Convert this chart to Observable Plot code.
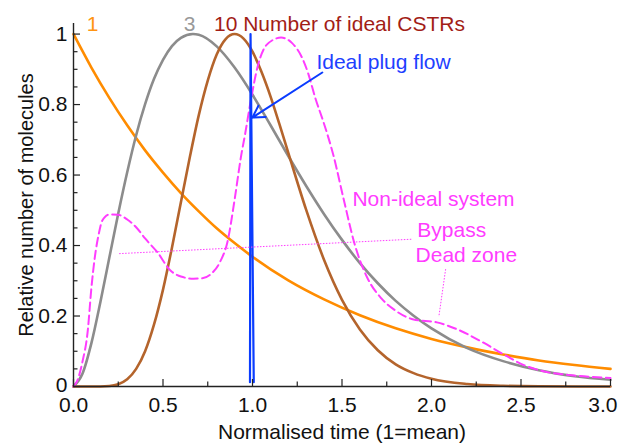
<!DOCTYPE html>
<html><head><meta charset="utf-8">
<script src="https://cdn.jsdelivr.net/npm/d3@7"></script>
<script src="https://cdn.jsdelivr.net/npm/@observablehq/plot@0.6"></script>
<style>body{margin:0;background:#fff}</style>
</head><body><div id="chart"></div>
<script>
// 1 ideal CSTR
const tOne = [0,0.1,0.2,0.3,0.4,0.5,0.6,0.7,0.8,0.9,1.0,1.2,1.4,1.6,1.8,2.0,2.2,2.4,2.6,2.8,3.0];
const oneCSTR = [1,0.905,0.819,0.741,0.670,0.607,0.549,0.497,0.449,0.407,0.368,0.301,0.247,0.202,0.165,0.135,0.111,0.091,0.074,0.061,0.050];
// 3 ideal CSTRs
const tThree = [0,0.05,0.1,0.15,0.2,0.25,0.3,0.35,0.4,0.45,0.5,0.55,0.6,0.667,0.7,0.8,0.9,1.0,1.1,1.2,1.3,1.4,1.5,1.6,1.7,1.8,1.9,2.0,2.2,2.4,2.6,2.8,3.0];
const threeCSTR = [0,0.036,0.123,0.239,0.365,0.491,0.608,0.713,0.801,0.873,0.927,0.966,0.989,1.0,0.998,0.965,0.905,0.828,0.742,0.654,0.569,0.489,0.416,0.350,0.293,0.243,0.201,0.165,0.109,0.072,0.046,0.029,0.019];
// 10 ideal CSTRs
const tTen = [0,0.1,0.2,0.25,0.3,0.35,0.4,0.45,0.5,0.55,0.6,0.65,0.7,0.75,0.8,0.85,0.9,0.95,1.0,1.05,1.1,1.15,1.2,1.3,1.4,1.5,1.6,1.7,1.8,1.9,2.0,2.2,2.4,2.6,3.0];
const tenCSTR = [0,0,0.0015,0.0065,0.0205,0.050,0.100,0.176,0.275,0.394,0.523,0.651,0.770,0.868,0.942,0.986,1.0,0.987,0.950,0.893,0.824,0.745,0.663,0.501,0.359,0.246,0.162,0.103,0.063,0.038,0.022,0.007,0.002,0.0006,0];
// ideal plug flow
const tPlug = [0.986,0.989,1.007];
const plugFlow = [0.012,1.0,0.012];
// non-ideal system
const tNonIdeal = [0,0.02,0.05,0.08,0.1,0.12,0.14,0.16,0.2,0.25,0.3,0.35,0.4,0.47,0.54,0.6,0.67,0.72,0.77,0.82,0.86,0.9,0.935,0.96,0.99,1.03,1.08,1.16,1.22,1.27,1.31,1.35,1.4,1.45,1.51,1.57,1.64,1.72,1.8,1.9,2.03,2.14,2.27,2.4,2.52,2.61,2.8,3.0];
const nonIdeal = [0,0.015,0.07,0.16,0.28,0.37,0.43,0.47,0.488,0.487,0.474,0.452,0.42,0.38,0.33,0.312,0.306,0.307,0.32,0.355,0.41,0.53,0.65,0.72,0.81,0.91,0.97,0.99,0.975,0.94,0.89,0.82,0.745,0.66,0.53,0.405,0.31,0.25,0.215,0.19,0.182,0.163,0.13,0.092,0.06,0.045,0.031,0.024];
// axes
const xMajorTicks = [0,0.5,1.0,1.5,2.0,2.5,3.0];
const xTickLabels = ["0.0","0.5","1.0","1.5","2.0","2.5","3.0"];
const xMinorTicks = [0.25,0.75,1.25,1.75,2.25,2.75];
const yMajorTicks = [0,0.2,0.4,0.6,0.8,1];
const yTickLabels = ["0","0.2","0.4","0.6","0.8","1"];
const yMinorTicks = [0.05,0.1,0.15,0.25,0.3,0.35,0.45,0.5,0.55,0.65,0.7,0.75,0.85,0.9,0.95];
const xTitle = "Normalised time (1=mean)";
const yTitle = "Relative number of molecules";

const FONT = "'Liberation Sans', Arial, Helvetica, sans-serif";
const AX = "#222";
const MAG = "#ff3cff";
const FS = 21;
const lastX = xMajorTicks.length - 1;

const chart = Plot.plot({
  width: 618, height: 445,
  marginLeft: 73, marginRight: 8, marginTop: 23, marginBottom: 59,
  style: {fontFamily: FONT, fontSize: "21px", background: "#fff", overflow: "visible"},
  x: {domain: [0, 3], axis: null},
  y: {domain: [0, 1.03], axis: null},
  marks: [
    // curves
    Plot.line(oneCSTR, {x: (d, i) => tOne[i], y: d => d, stroke: "#ff8c00", strokeWidth: 2.6, curve: "monotone-x"}),
    Plot.line(threeCSTR, {x: (d, i) => tThree[i], y: d => d, stroke: "#8c8c8c", strokeWidth: 2.6, curve: "monotone-x"}),
    Plot.line(tenCSTR, {x: (d, i) => tTen[i], y: d => d, stroke: "#b4642c", strokeWidth: 2.6, curve: "monotone-x"}),
    Plot.line(nonIdeal, {x: (d, i) => tNonIdeal[i], y: d => d, stroke: MAG, strokeWidth: 2, strokeDasharray: "8.5,4.5", curve: "monotone-x"}),
    Plot.line(plugFlow, {x: (d, i) => tPlug[i], y: d => d, stroke: "#0a3cff", strokeWidth: 2.2, curve: "linear"}),
    // annotation leader lines
    Plot.link([0], {x1: 0.255, y1: 0.377, x2: 1.893, y2: 0.418, stroke: MAG, strokeWidth: 1, strokeDasharray: "1.5,1.5"}),
    Plot.link([0], {x1: 2.079, y1: 0.333, x2: 2.041, y2: 0.198, stroke: MAG, strokeWidth: 1, strokeDasharray: "1.5,1.5"}),
    Plot.arrow([0], {x1: 1.39, y1: 0.891, x2: 0.999, y2: 0.763, stroke: "#0a3cff", strokeWidth: 2, headLength: 10}),
    // axis lines
    Plot.ruleY([0], {stroke: AX, strokeWidth: 1.4}),
    Plot.ruleX([0], {stroke: AX, strokeWidth: 1.4}),
    // ticks (inward)
    Plot.ruleX(xMajorTicks, {x: d => d, y1: 0, y2: 0, insetTop: -7, stroke: AX, strokeWidth: 1.2}),
    Plot.ruleX(xMinorTicks, {x: d => d, y1: 0, y2: 0, insetTop: -4.5, stroke: AX, strokeWidth: 1.2}),
    Plot.ruleY(yMajorTicks, {y: d => d, x1: 0, x2: 0, insetRight: -7, stroke: AX, strokeWidth: 1.2}),
    Plot.ruleY(yMinorTicks, {y: d => d, x1: 0, x2: 0, insetRight: -4.5, stroke: AX, strokeWidth: 1.2}),
    // tick labels
    Plot.text(xMajorTicks, {filter: (d, i) => i < lastX, x: d => d, y: 0, text: (d, i) => xTickLabels[i], lineAnchor: "top", dy: 11, fill: "#111", fontSize: FS}),
    Plot.text(xMajorTicks, {filter: (d, i) => i === lastX, x: d => d, y: 0, text: (d, i) => xTickLabels[i], textAnchor: "end", lineAnchor: "top", dx: 7, dy: 11, fill: "#111", fontSize: FS}),
    Plot.text(yMajorTicks, {filter: (d, i) => i > 0, x: 0, y: d => d, text: (d, i) => yTickLabels[i], textAnchor: "end", dx: -6, fill: "#111", fontSize: FS}),
    Plot.text(yMajorTicks, {filter: (d, i) => i === 0, x: 0, y: d => d, text: (d, i) => yTickLabels[i], textAnchor: "end", dx: -6, dy: -1.5, fill: "#111", fontSize: FS}),
    // axis titles
    Plot.text([xTitle], {frameAnchor: "bottom", textAnchor: "middle", lineAnchor: "bottom", dy: 52, fill: "#111", fontSize: FS}),
    Plot.text([yTitle], {frameAnchor: "left", textAnchor: "middle", rotate: -90, lineAnchor: "bottom", dx: -41, fill: "#111", fontSize: 20}),
    // annotations
    Plot.text(["1"], {x: 0.074, y: 1.009, textAnchor: "start", lineAnchor: "bottom", fill: "#ff9412", fontSize: FS}),
    Plot.text(["3"], {x: 0.616, y: 1.009, textAnchor: "start", lineAnchor: "bottom", fill: "#999", fontSize: FS}),
    Plot.text(["10 Number of ideal CSTRs"], {x: 0.785, y: 1.009, textAnchor: "start", lineAnchor: "bottom", fill: "#a21d16", fontSize: FS}),
    Plot.text(["Ideal plug flow"], {x: 1.357, y: 0.901, textAnchor: "start", lineAnchor: "bottom", fill: "#1e40ff", fontSize: FS}),
    Plot.text(["Non-ideal system"], {x: 1.558, y: 0.513, textAnchor: "start", lineAnchor: "bottom", fill: MAG, fontSize: FS}),
    Plot.text(["Bypass"], {x: 1.921, y: 0.425, textAnchor: "start", lineAnchor: "bottom", fill: MAG, fontSize: FS}),
    Plot.text(["Dead zone"], {x: 1.911, y: 0.352, textAnchor: "start", lineAnchor: "bottom", fill: MAG, fontSize: FS})
  ]
});
document.getElementById("chart").appendChild(chart);
</script></body></html>
